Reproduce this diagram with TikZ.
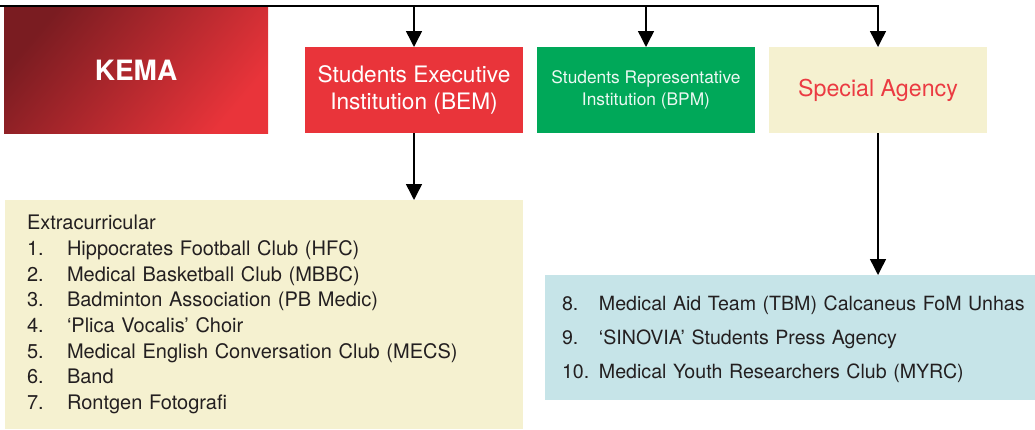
\documentclass[tikz,border=0pt]{standalone}
\usepackage{fontspec}
\setmainfont{TeX Gyre Heros}
\usetikzlibrary{positioning,arrows.meta}
\definecolor{kemadark}{HTML}{7A1C21}
\definecolor{kemared}{HTML}{E9343A}
\definecolor{bemred}{HTML}{E9343A}
\definecolor{bpmgreen}{HTML}{00A859}
\definecolor{cream}{HTML}{F5F1D0}
\definecolor{agencyred}{HTML}{EB3B42}
\definecolor{paleblue}{HTML}{C6E4E8}
\definecolor{ink}{HTML}{231F20}

\begin{document}
\begin{tikzpicture}[x=0.75pt,y=-0.75pt,line width=1.1pt,
  >={Triangle[width=12pt,length=12pt]},every node/.style={outer sep=0pt},
  unit node/.style={rectangle,inner sep=0pt,minimum width=163.5pt,minimum height=64.5pt,align=center},
  list node/.style={rectangle,anchor=north west,inner ysep=0pt,align=left,text=ink,font=\fontsize{15}{19.3}\selectfont}]
   \useasboundingbox (0,0) rectangle (1035,429);
   \node[rectangle,inner sep=0pt,minimum width=198pt,minimum height=94.5pt,
         top color=kemadark,bottom color=kemared,shading angle=50,
         text=white,font=\fontsize{21}{25}\selectfont\bfseries] (kema) at (136,70) {KEMA};
   \node[unit node,fill=bemred,text=white,font=\fontsize{17}{20}\selectfont]
        (bem) [above right=0pt and 27.75pt of kema.south east] {Students Executive\\Institution (BEM)};
   \node[unit node,fill=bpmgreen,text=white!92!bpmgreen,font=\fontsize{13}{16.5}\selectfont]
        (bpm) [right=10.5pt of bem] {Students Representative\\Institution (BPM)};
   \node[unit node,fill=cream,text=agencyred,font=\fontsize{17.4}{20}\selectfont]
        (sa)  [right=10.5pt of bpm] {Special Agency};
   \node[list node,fill=cream,inner xsep=16.5pt,text width=355.5pt,minimum height=171.75pt]
        (extra) at (5,200) {\begin{tabular}{@{}p{30pt}@{}l@{}}
          \multicolumn{2}{@{}l@{}}{Extracurricular}\\
          1. & Hippocrates Football Club (HFC)\\
          2. & Medical Basketball Club (MBBC)\\
          3. & Badminton Association (PB Medic)\\
          4. & ‘Plica Vocalis’ Choir\\
          5. & Medical English Conversation Club (MECS)\\
          6. & Band\\
          7. & Rontgen Fotografi
        \end{tabular}};
   \node[list node,fill=paleblue,inner xsep=12.75pt,text width=342pt,minimum height=93.75pt,
         font=\fontsize{14.7}{25.5}\selectfont]
        (agency) at (545,275) {\begin{tabular}{@{}p{27.75pt}@{}l@{}}
          8.  & Medical Aid Team (TBM) Calcaneus FoM Unhas\\
          9.  & ‘SINOVIA’ Students Press Agency\\
          10. & Medical Youth Researchers Club (MYRC)
        \end{tabular}};
   \coordinate (top) at (0,6);
   \draw[->] (top) -| (sa.north);
   \draw[->] (bem.north |- top) -- (bem.north);
   \draw[->] (bpm.north |- top) -- (bpm.north);
   \draw[->] (bem.south) -- (bem.south |- extra.north);
   \draw[->] (sa.south) -- (sa.south |- agency.north);
\end{tikzpicture}
\end{document}
